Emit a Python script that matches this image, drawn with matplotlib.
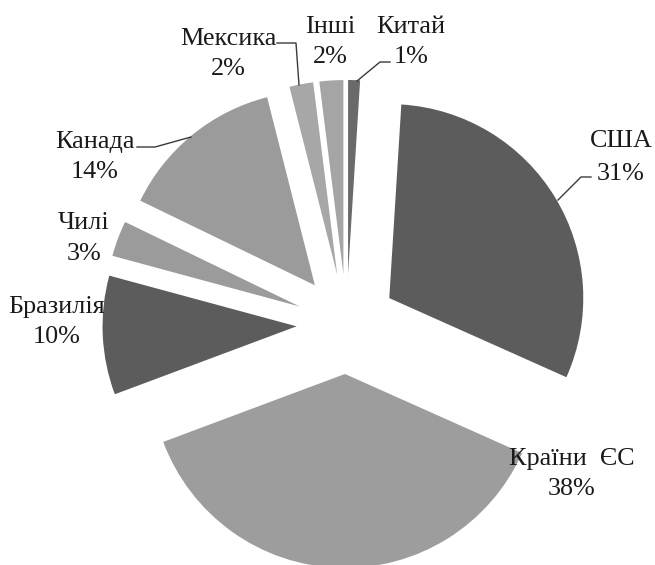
import matplotlib
matplotlib.use('Agg')
import matplotlib.pyplot as plt

# Data (clockwise from 12 o'clock)
countries = ['Китай', 'США', 'Країни  ЄС', 'Бразилія', 'Чилі', 'Канада', 'Мексика', 'Інші']
shares = [1, 31, 38, 10, 3, 14, 2, 2]
colors = ['#6a6a6a', '#5c5c5c', '#9d9d9d', '#5c5c5c', '#9b9b9b', '#9b9b9b', '#a7a7a7', '#a5a5a5']

W, H = 655, 565
fig = plt.figure(figsize=(6.55, 5.65), dpi=100)
ax = fig.add_axes([0, 0, 1, 1])

# explode is in data units (pixels here)
ax.pie(shares, colors=colors, startangle=90, counterclock=False,
       center=(346.5, H - 324), radius=194, explode=[50] * len(shares),
       wedgeprops=dict(linewidth=0))
ax.set_xlim(0, W)
ax.set_ylim(0, H)
ax.set_aspect('equal')
ax.axis('off')

# label layout (image pixel coords: centre x, baseline of name, baseline of percent)
label_pos = {
    'Китай': (411, 33, 63),
    'США': (621, 147, 180),
    'Країни  ЄС': (572, 465, 495),
    'Бразилія': (57, 313, 343),
    'Чилі': (84, 229, 260),
    'Канада': (95, 148, 178),
    'Мексика': (228, 45, 75),
    'Інші': (330, 33, 63),
}
txt_kw = dict(ha='center', va='baseline', fontsize=18.8,
              family=['Liberation Serif', 'DejaVu Serif'], color='#1a1a1a')
for name, val in zip(countries, shares):
    cx, b1, b2 = label_pos[name]
    ax.text(cx, H - b1, name, **txt_kw)
    ax.text(cx, H - b2, f'{val}%', **txt_kw)

# leader lines (image pixel coords)
leaders = [
    [(277, 43), (296, 43), (299, 85)],      # Мексика
    [(390, 62), (380, 62), (357, 81)],      # Китай
    [(591, 177), (581, 177), (558, 200)],   # США
    [(137, 147), (155, 147), (191, 137)],   # Канада
]
for pts in leaders:
    xs = [p[0] for p in pts]
    ys = [H - p[1] for p in pts]
    ax.plot(xs, ys, color='#3a3a3a', linewidth=1.0)

fig.savefig('out.png', dpi=100)
